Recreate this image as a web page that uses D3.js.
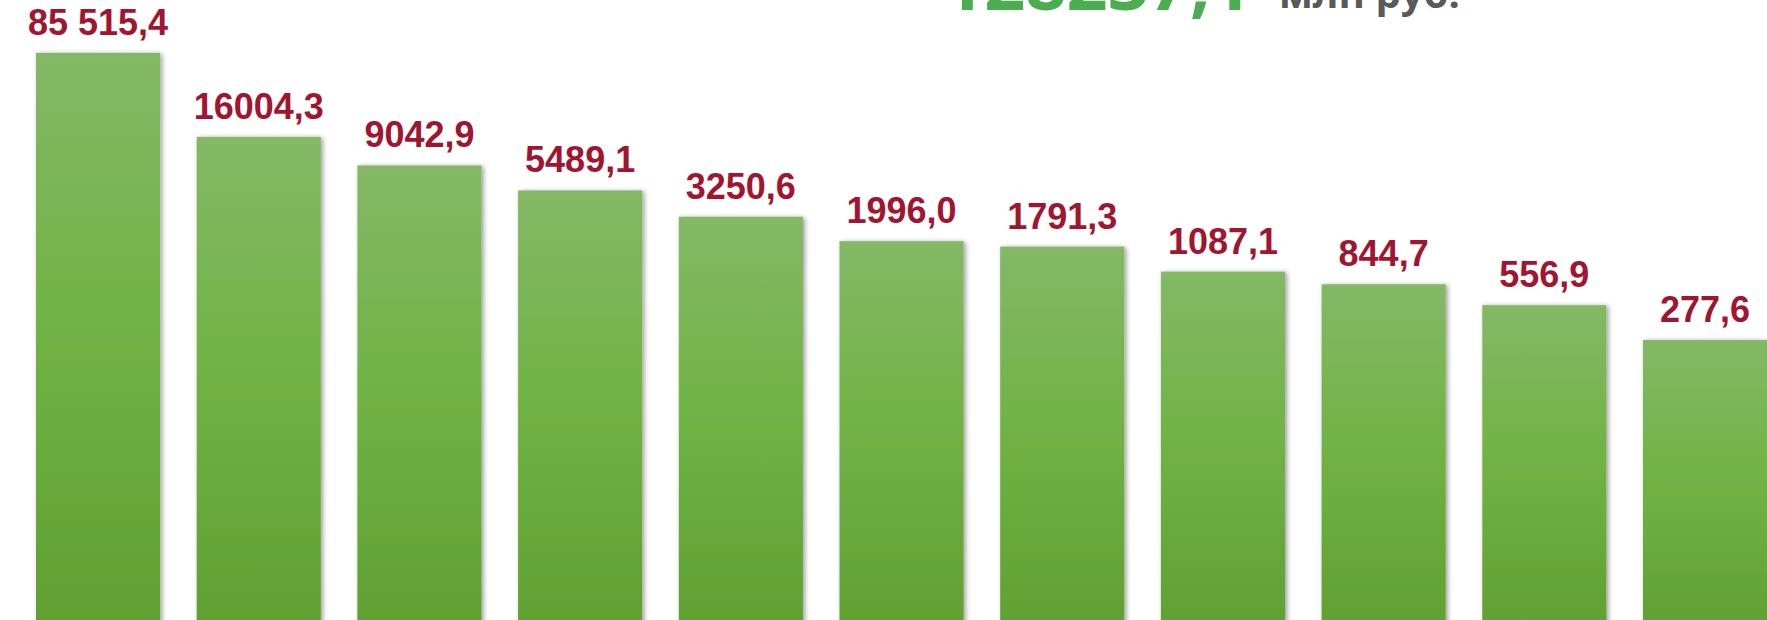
<!DOCTYPE html>
<html>
<head>
<meta charset="utf-8">
<script src="https://cdn.jsdelivr.net/npm/d3@7"></script>
<style>
  html, body { margin: 0; padding: 0; background: #fff; overflow: hidden; }
</style>
</head>
<body>
<div id="chart"></div>
<script>
var categories = ["1", "2", "3", "4", "5", "6", "7", "8", "9", "10", "11"];
var values = [85515.4, 16004.3, 9042.9, 5489.1, 3250.6, 1996.0, 1791.3, 1087.1, 844.7, 556.9, 277.6];
var valueLabels = ["85 515,4", "16004,3", "9042,9", "5489,1", "3250,6", "1996,0", "1791,3", "1087,1", "844,7", "556,9", "277,6"];
var totalLabel = "128237,1";
var unitLabel = "млн руб.";

var width = 1767,
  height = 620;

var svg = d3.select("#chart").append("svg")
  .attr("width", width)
  .attr("height", height);

var defs = svg.append("defs");

var grad = defs.append("linearGradient")
  .attr("id", "barGrad")
  .attr("x1", 0).attr("y1", 0)
  .attr("x2", 0).attr("y2", 1);
grad.append("stop").attr("offset", "0%").attr("stop-color", "#84b866");
grad.append("stop").attr("offset", "45%").attr("stop-color", "#71b345");
grad.append("stop").attr("offset", "100%").attr("stop-color", "#5f9f31");

var shadow = defs.append("filter")
  .attr("id", "barShadow")
  .attr("x", "-20%").attr("y", "-20%")
  .attr("width", "140%").attr("height", "140%");
shadow.append("feDropShadow")
  .attr("dx", 2).attr("dy", 1)
  .attr("stdDeviation", 2.5)
  .attr("flood-color", "#000")
  .attr("flood-opacity", 0.4);

// bars start just under the bottom edge (value 1 sits at ~622)
var step = 160.7;
var x = d3.scaleBand()
  .domain(categories)
  .range([36 - step * 0.114, 36 - step * 0.114 + step * categories.length])
  .paddingInner(0.228)
  .paddingOuter(0.114);

var y = d3.scaleLog()
  .domain([1, 100000])
  .range([622, 45]);

svg.selectAll(".bar")
  .data(values)
  .enter().append("rect")
  .attr("class", "bar")
  .attr("x", function(d, i) { return x(categories[i]); })
  .attr("y", function(d) { return y(d); })
  .attr("width", x.bandwidth())
  .attr("height", function(d) { return height + 20 - y(d); })
  .attr("fill", "url(#barGrad)")
  .attr("filter", "url(#barShadow)");

svg.selectAll(".label")
  .data(values)
  .enter().append("text")
  .attr("class", "label")
  .attr("x", function(d, i) { return x(categories[i]) + x.bandwidth() / 2; })
  .attr("y", function(d) { return y(d) - 18; })
  .attr("text-anchor", "middle")
  .style("font-family", "'Liberation Sans', Arial, sans-serif")
  .style("font-weight", "bold")
  .style("font-size", "36px")
  .style("fill", "#a01530")
  .text(function(d, i) { return valueLabels[i]; });

// headline, cut off by the top edge as in the slide
svg.append("text")
  .attr("x", 943)
  .attr("y", 10)
  .style("font-family", "'Open Sans', sans-serif")
  .style("font-weight", "bold")
  .style("font-size", "72px")
  .style("fill", "#4cac50")
  .text(totalLabel);

svg.append("text")
  .attr("x", 1279)
  .attr("y", 8)
  .style("font-family", "'Open Sans', sans-serif")
  .style("font-weight", "bold")
  .style("font-size", "40px")
  .style("fill", "#595959")
  .text(unitLabel);
</script>
</body>
</html>
